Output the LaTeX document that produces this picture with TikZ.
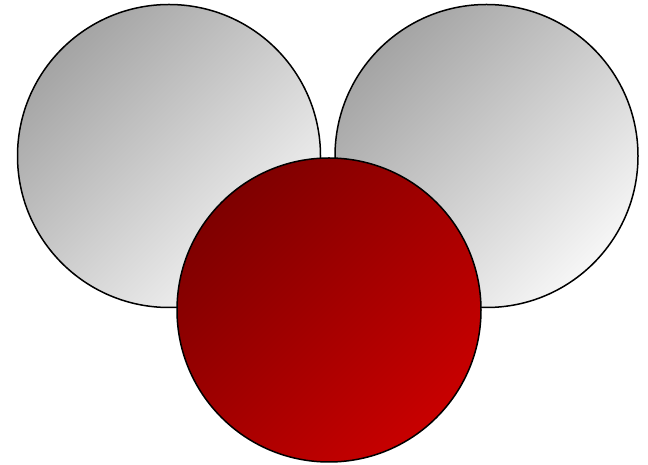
\documentclass[tikz,border=0pt]{standalone}
\begin{document}
\begin{tikzpicture}[x=1pt,y=1pt,
  graycirc/.style={draw=black,line width=1.5pt,top color=gdark,bottom color=glight,shading angle=45},
  redcirc/.style={draw=black,line width=1.5pt,top color=rdark,bottom color=rlight,shading angle=45}]
\definecolor{gdark}{HTML}{A4A4A4}
\definecolor{glight}{HTML}{F6F6F6}
\definecolor{rdark}{HTML}{7E0000}
\definecolor{rlight}{HTML}{C80000}
\useasboundingbox (0,0) rectangle (648,465);
\path[graycirc] (169,309) circle (151.5);
\path[graycirc] (486.5,309) circle (151.5);
\path[redcirc] (329,155) circle (152);
\end{tikzpicture}
\end{document}
